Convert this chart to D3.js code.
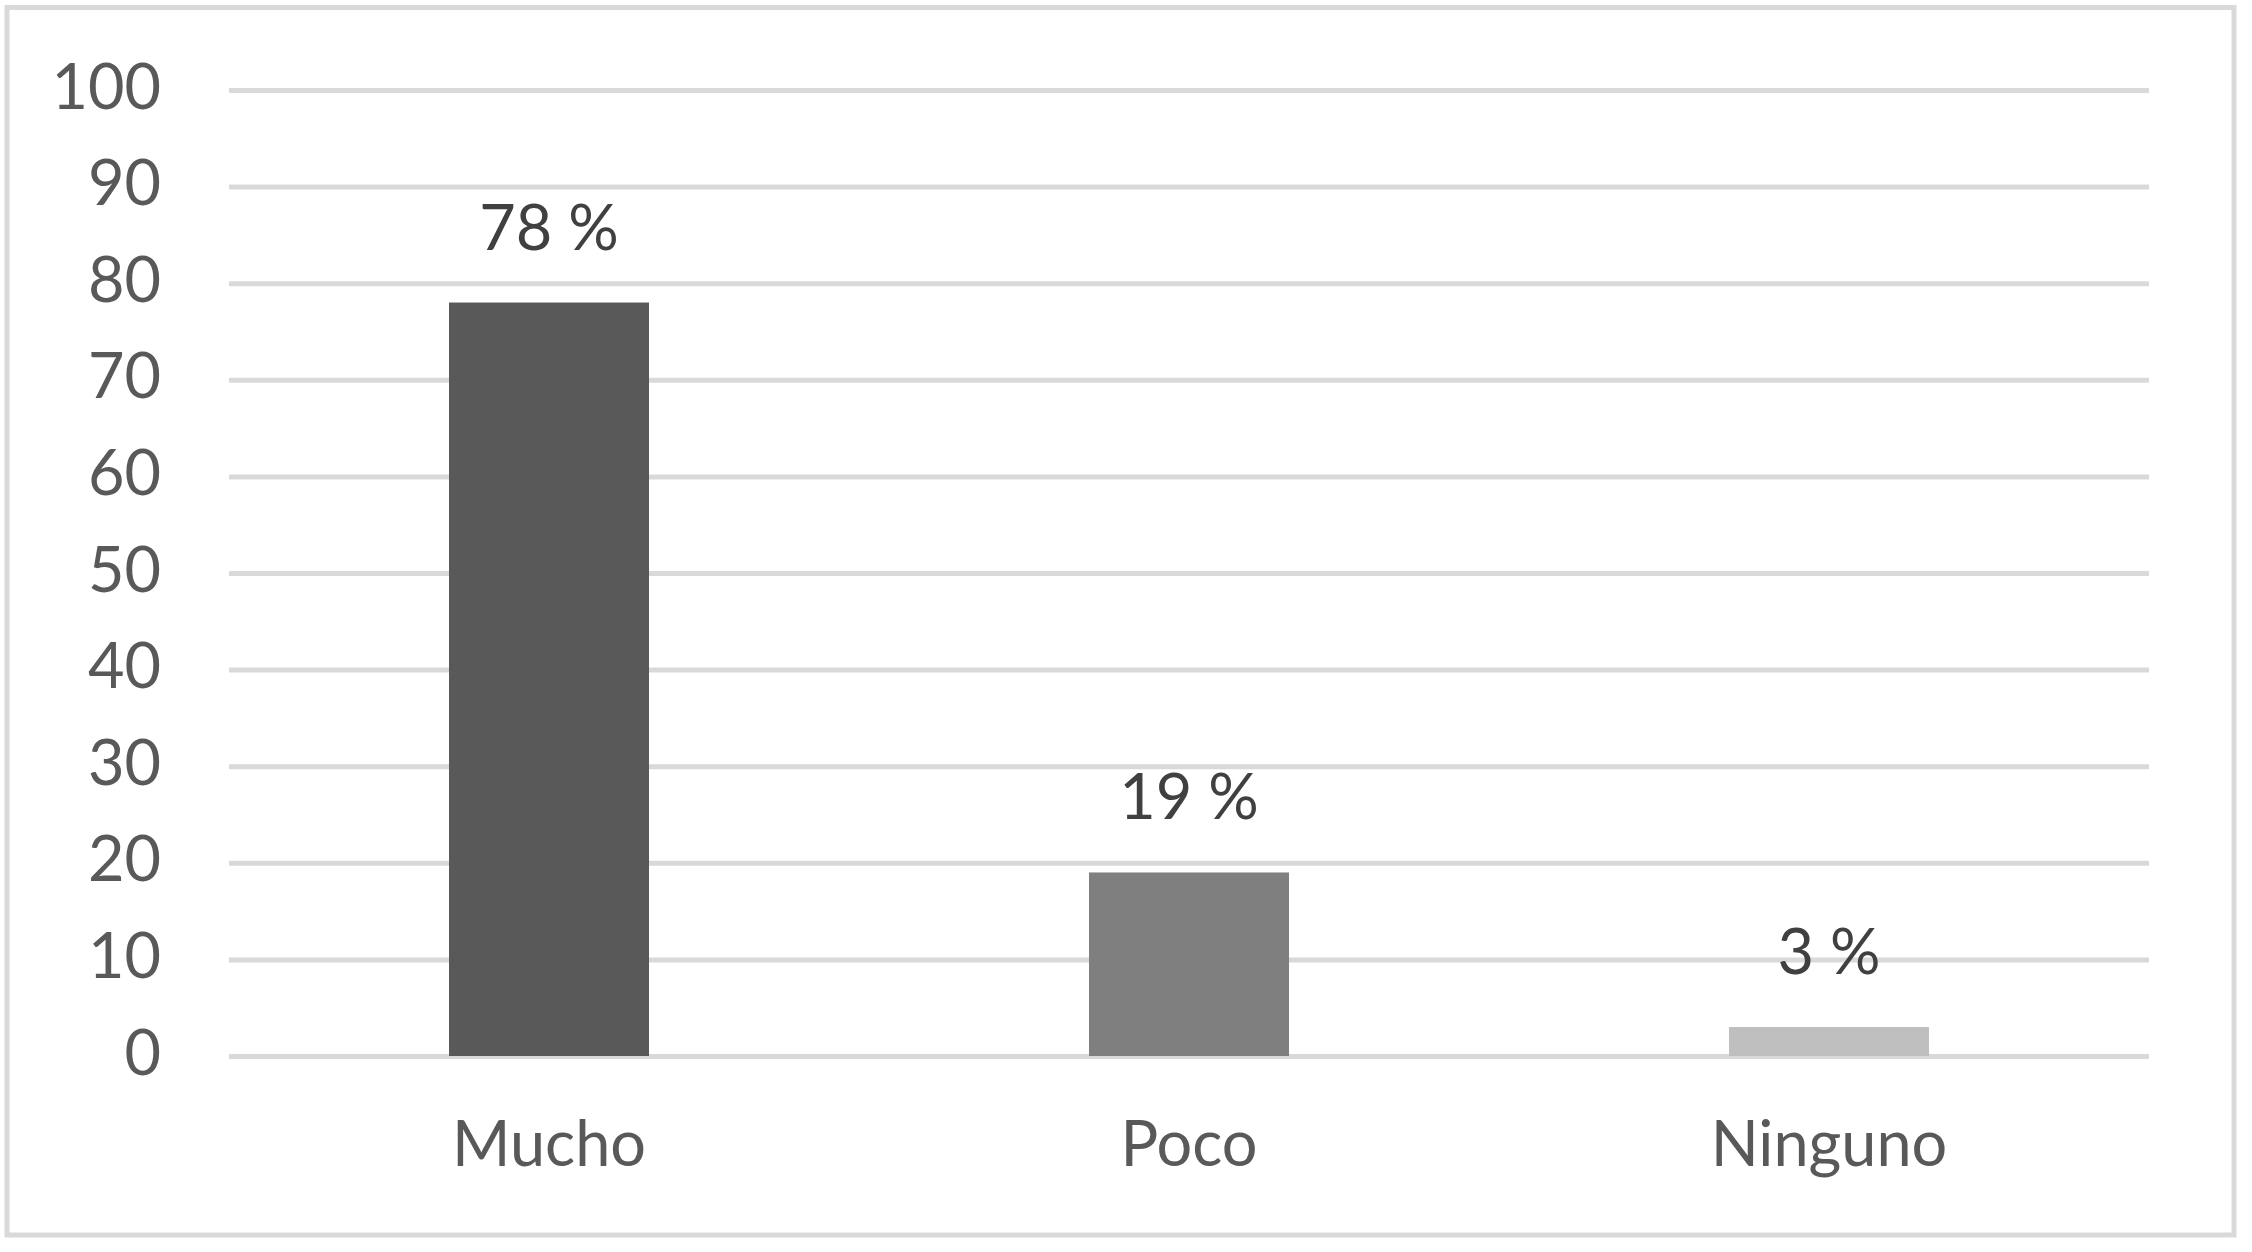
<!DOCTYPE html>
<html>
<head>
<meta charset="utf-8">
<script src="https://cdn.jsdelivr.net/npm/d3@7"></script>
<style>
  html, body { margin: 0; padding: 0; background: #ffffff; }
  text { font-family: Lato, "Open Sans", sans-serif; }
</style>
</head>
<body>
<div id="chart"></div>
<script>
// Data
const categories = ["Mucho", "Poco", "Ninguno"];
const values = [78, 19, 3];
const valueLabels = ["78 %", "19 %", "3 %"];
const barColors = ["#595959", "#7f7f7f", "#bfbfbf"];
const yTicks = [0, 10, 20, 30, 40, 50, 60, 70, 80, 90, 100];

const W = 2252, H = 1252;
const plot = { left: 229, right: 2149, top: 90, bottom: 1056 };

const svg = d3.select("#chart")
  .append("svg")
    .attr("width", W)
    .attr("height", H);

svg.append("rect")
  .attr("width", W).attr("height", H)
  .attr("fill", "#ffffff");

// chart frame
svg.append("rect")
  .attr("x", 7).attr("y", 7.5)
  .attr("width", 2234 - 7).attr("height", 1235 - 7.5)
  .attr("fill", "none")
  .attr("stroke", "#d9d9d9")
  .attr("stroke-width", 5);

const x = d3.scaleBand()
  .domain(categories)
  .range([plot.left, plot.right])
  .paddingInner(0.6875)
  .paddingOuter(0.34375);

const y = d3.scaleLinear()
  .domain([0, 100])
  .range([plot.bottom, plot.top]);

// Y axis: gridlines + tick labels
const yAxis = svg.append("g")
  .attr("transform", "translate(" + plot.left + ",0)")
  .call(d3.axisLeft(y)
    .tickValues(yTicks)
    .tickSize(-(plot.right - plot.left))
    .tickPadding(68));

yAxis.select(".domain").remove();
yAxis.selectAll(".tick line")
  .attr("stroke", "#d9d9d9")
  .attr("stroke-width", 5);
yAxis.selectAll(".tick text")
  .attr("dy", null)
  .attr("y", 18)
  .attr("fill", "#595959")
  .style("font-size", "63px")
  .style("font-family", "Lato, 'Open Sans', sans-serif");

// bars
svg.selectAll(".bar")
  .data(categories)
  .enter()
  .append("rect")
    .attr("class", "bar")
    .attr("x", d => x(d))
    .attr("y", (d, i) => y(values[i]))
    .attr("width", x.bandwidth())
    .attr("height", (d, i) => y(0) - y(values[i]))
    .attr("fill", (d, i) => barColors[i]);

// value labels
svg.selectAll(".value-label")
  .data(categories)
  .enter()
  .append("text")
    .attr("class", "value-label")
    .attr("x", d => x(d) + x.bandwidth() / 2)
    .attr("y", (d, i) => y(values[i]) - 53)
    .attr("text-anchor", "middle")
    .attr("fill", "#404040")
    .style("font-size", "63px")
    .text((d, i) => valueLabels[i]);

// X axis category labels
const xAxis = svg.append("g")
  .attr("transform", "translate(0," + plot.bottom + ")")
  .call(d3.axisBottom(x).tickSize(0).tickPadding(0));

xAxis.select(".domain").remove();
xAxis.selectAll(".tick text")
  .attr("dy", null)
  .attr("y", 110)
  .attr("fill", "#595959")
  .style("font-size", "63px")
  .style("font-family", "Lato, 'Open Sans', sans-serif");
</script>
</body>
</html>
